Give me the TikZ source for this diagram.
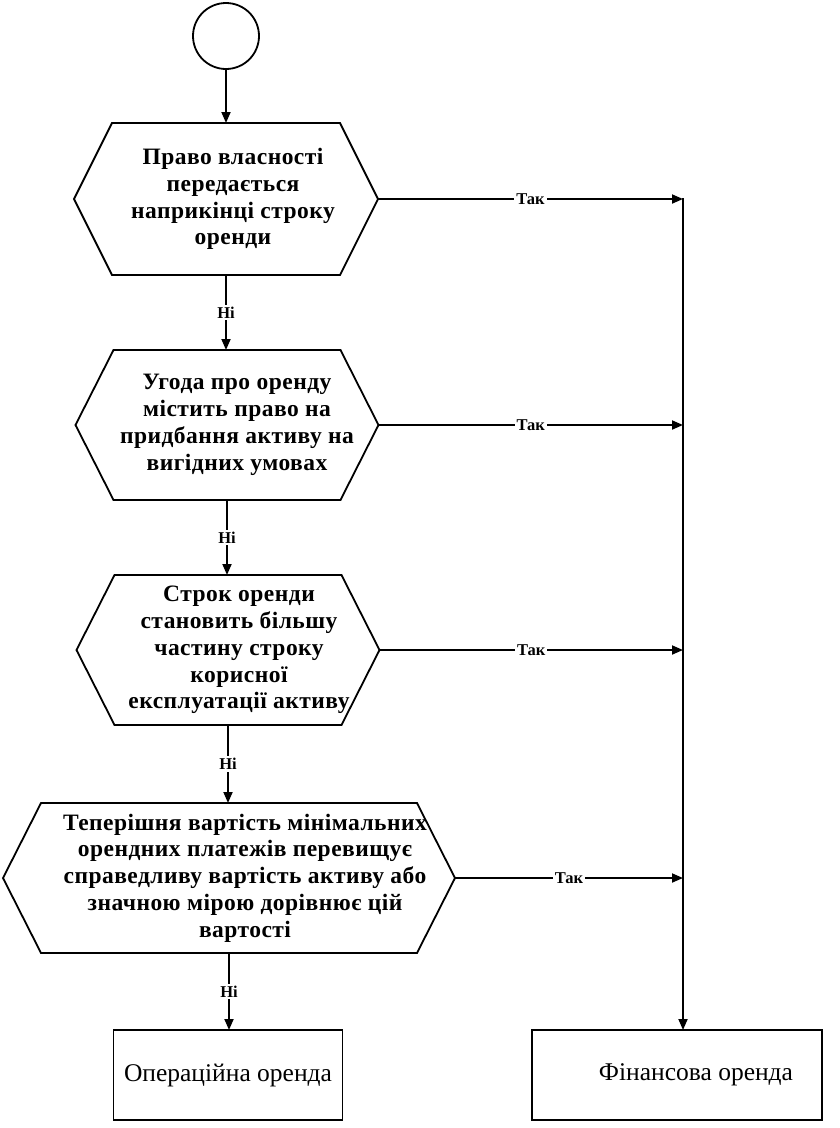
\documentclass[tikz,border=0pt]{standalone}
\usepackage{fontspec}
\setmainfont{Liberation Serif}
\usetikzlibrary{arrows.meta}
\begin{document}
\begin{tikzpicture}[x=1pt,y=-1pt,line width=1.8pt,
  arr/.style={-{Triangle[length=11pt,width=9pt]}},
  hexshape/.style={inner sep=0pt,outer sep=0pt},
  hextext/.style={inner sep=0pt,align=center,
    font=\fontsize{23.5}{26.8}\selectfont\bfseries\addfontfeature{LetterSpace=2}},
  endbox/.style={draw,inner sep=0pt,outer sep=0pt,align=center,
    minimum height=90pt,font=\fontsize{25.5}{28}\selectfont},
  lbl/.style={fill=white,inner sep=2pt,font=\fontsize{16.5}{17}\selectfont\bfseries}]
\useasboundingbox[fill=white] (0,0) rectangle (840,1128);
\node[draw,circle,minimum size=66pt,inner sep=0pt,outer sep=0pt] (start) at (226,36) {};
\node[hexshape,minimum width=304pt,minimum height=152pt] (h1) at (226,199) {};
\node[hexshape,minimum width=303pt,minimum height=150pt] (h2) at (227,425) {};
\node[hexshape,minimum width=303pt,minimum height=150pt] (h3) at (228,650) {};
\node[hexshape,minimum width=452pt,minimum height=150pt] (h4) at (229,878) {};
\foreach \n in {h1,h2,h3,h4}
  \draw (\n.west) -- ([xshift=38pt]\n.north west) -- ([xshift=-38pt]\n.north east)
    -- (\n.east) -- ([xshift=-38pt]\n.south east) -- ([xshift=38pt]\n.south west) -- cycle;
\node[hextext] (t1) at ([xshift=7pt]h1.center)
  {Право власності\\передається\\наприкінці строку\\оренди};
\node[hextext] (t2) at ([xshift=10pt]h2.center)
  {Угода про оренду\\містить право на\\придбання активу на\\вигідних умовах};
\node[hextext] (t3) at ([xshift=11pt]h3.center)
  {Строк оренди\\становить більшу\\частину строку\\корисної\\експлуатації активу};
\node[hextext] (t4) at ([xshift=16pt]h4.center)
  {Теперішня вартість мінімальних\\орендних платежів перевищує\\справедливу вартість активу або\\значною мірою дорівнює цій\\вартості};
\node[endbox,minimum width=229pt] (op) at (228,1075) {Операційна оренда};
\node[endbox,minimum width=290pt] (fin) at (677,1075) {\hspace*{38pt}Фінансова оренда};
\coordinate (vtop) at (683,198);
% main flow
\draw[arr] (start.south) -- (start.south |- h1.north);
\draw[arr] (h1.south) -- node[lbl] {Ні} (h1.south |- h2.north);
\draw[arr] (h2.south) -- node[lbl] {Ні} (h2.south |- h3.north);
\draw[arr] (h3.south) -- node[lbl] {Ні} (h3.south |- h4.north);
\draw[arr] (h4.south) -- node[lbl] {Ні} (h4.south |- op.north);
% yes branches
\foreach \n in {h1,h2,h3,h4}
  \draw[arr] (\n.east) -- node[lbl] {Так} (\n.east -| vtop);
\draw[arr] (vtop) -- (vtop |- fin.north);
\end{tikzpicture}
\end{document}
